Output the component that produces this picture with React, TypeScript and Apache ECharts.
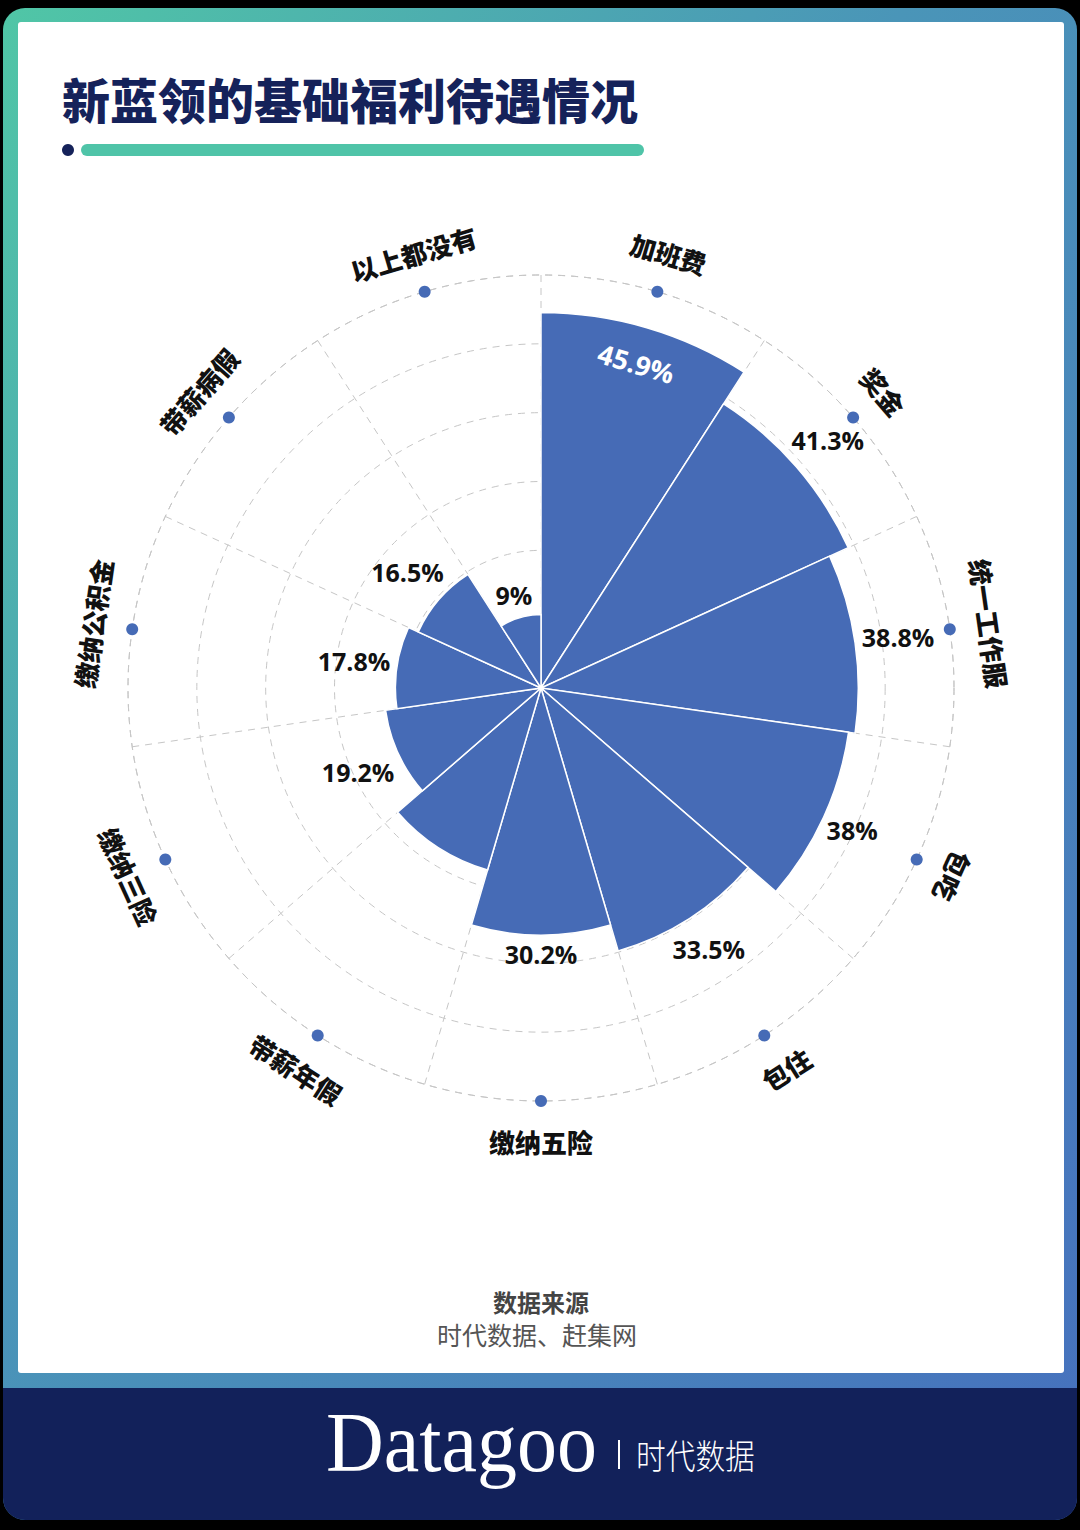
import React, { useEffect, useRef } from 'react';
import * as echarts from 'echarts';

const categories = ['加班费', '奖金', '统一工作服', '包吃', '包住', '缴纳五险', '带薪年假', '缴纳三险', '缴纳公积金', '带薪病假', '以上都没有'];
const values = [45.9, 41.3, 38.8, 38, 33.5, 30.2, 23.2, 19.2, 17.8, 16.5, 9];
const hiddenValueLabels = ['带薪年假'];
const insideValueLabels = ['加班费'];
const radiusMax = 50.5;
const radiusSplits = 6;

const titleText = '新蓝领的基础福利待遇情况';
const sourceTitle = '数据来源';
const sourceText = '时代数据、赶集网';
const brandName = 'Datagoo';
const brandCn = '时代数据';

const BLUE = '#466bb6';
const NAVY = '#15225a';
const GRID = '#c6c6c6';
const CJK = '"Noto Sans CJK SC", "Noto Sans", sans-serif';
const NUM = '"Open Sans", "Noto Sans", sans-serif';

function direction(api: any, v: number, i: number) {
  const c = api.coord([0, i]);
  const p = api.coord([v, i]);
  let dx = p[0] - c[0];
  let dy = p[1] - c[1];
  const len = Math.hypot(dx, dy) || 1;
  dx /= len;
  dy /= len;
  let deg = (Math.atan2(dx, -dy) * 180) / Math.PI;
  if (deg < 0) deg += 360;
  return { c, p, dx, dy, len, deg };
}

export default function App() {
  const ref = useRef<HTMLDivElement>(null);

  useEffect(() => {
    document.body.style.margin = '0';
    const chart = echarts.init(ref.current as HTMLDivElement, null, { renderer: 'svg' });

    const dashed = { color: GRID, type: [7, 6] as any, width: 1 };

    const option: any = {
      animation: false,
      backgroundColor: 'transparent',
      polar: { center: [541, 688], radius: [0, 413] },
      angleAxis: {
        type: 'category',
        data: categories,
        startAngle: 90,
        clockwise: true,
        boundaryGap: true,
        z: 1,
        axisLine: { show: false },
        axisTick: { show: false },
        axisLabel: { show: false },
        splitLine: { show: true, lineStyle: dashed },
        splitArea: { show: false },
      },
      radiusAxis: {
        type: 'value',
        min: 0,
        max: radiusMax,
        interval: radiusMax / radiusSplits,
        z: 1,
        axisLine: { show: false },
        axisTick: { show: false },
        axisLabel: { show: false },
        splitLine: { show: true, lineStyle: dashed },
        splitArea: { show: false },
      },
      series: [
        {
          type: 'bar',
          coordinateSystem: 'polar',
          data: values,
          barCategoryGap: '0%',
          z: 2,
          itemStyle: { color: BLUE, borderColor: '#ffffff', borderWidth: 1.5 },
          label: { show: false },
        },
        {
          type: 'custom',
          coordinateSystem: 'polar',
          clip: false,
          z: 4,
          data: values.map((v, i) => [v, i]),
          renderItem: (params: any, api: any) => {
            const i = params.dataIndex;
            const cat = categories[i];
            if (hiddenValueLabels.includes(cat)) return null;
            const v = values[i];
            const d = direction(api, v, i);
            const text = v + '%';
            const baseStyle = {
              text,
              fontFamily: NUM,
              fontSize: 25,
              fontWeight: 'bold',
              align: 'center',
              verticalAlign: 'middle',
            };
            if (insideValueLabels.includes(cat)) {
              return {
                type: 'text',
                x: d.p[0] - d.dx * 37,
                y: d.p[1] - d.dy * 37,
                rotation: (-d.deg * Math.PI) / 180,
                style: { ...baseStyle, fontSize: 27, fill: '#ffffff' },
              };
            }
            const w = text.length * 14;
            const h = 25;
            const off = 7 + (Math.abs(d.dx) * w) / 2 + (Math.abs(d.dy) * h) / 2;
            return {
              type: 'text',
              x: d.p[0] + d.dx * off,
              y: d.p[1] + d.dy * off,
              style: { ...baseStyle, fill: '#111111' },
            };
          },
        },
        {
          type: 'custom',
          coordinateSystem: 'polar',
          clip: false,
          z: 4,
          data: categories.map((_, i) => [radiusMax, i]),
          renderItem: (params: any, api: any) => {
            const i = params.dataIndex;
            const d = direction(api, radiusMax, i);
            let rot = d.deg;
            if (rot > 120 && rot < 250) rot -= 180;
            const r = d.len + 40;
            return {
              type: 'group',
              children: [
                {
                  type: 'circle',
                  shape: { cx: d.p[0], cy: d.p[1], r: 6 },
                  style: { fill: BLUE },
                },
                {
                  type: 'text',
                  x: d.c[0] + d.dx * r,
                  y: d.c[1] + d.dy * r,
                  rotation: (-rot * Math.PI) / 180,
                  style: {
                    text: categories[i],
                    fill: '#111111',
                    fontFamily: CJK,
                    fontSize: 26,
                    fontWeight: 900,
                    align: 'center',
                    verticalAlign: 'middle',
                  },
                },
              ],
            };
          },
        },
      ],
      graphic: [
        {
          type: 'text',
          x: 62,
          y: 98,
          z: 10,
          style: {
            text: titleText,
            fill: NAVY,
            fontFamily: CJK,
            fontSize: 48,
            fontWeight: 900,
            align: 'left',
            verticalAlign: 'middle',
          },
        },
        {
          type: 'circle',
          z: 10,
          shape: { cx: 68, cy: 150, r: 6 },
          style: { fill: NAVY },
        },
        {
          type: 'rect',
          z: 10,
          shape: { x: 81, y: 144, width: 563, height: 12, r: 6 },
          style: { fill: '#4fc4a8' },
        },
        {
          type: 'text',
          x: 541,
          y: 1301,
          z: 10,
          style: {
            text: sourceTitle,
            fill: '#444444',
            fontFamily: CJK,
            fontSize: 24,
            fontWeight: 'bold',
            align: 'center',
            verticalAlign: 'middle',
          },
        },
        {
          type: 'text',
          x: 537,
          y: 1334,
          z: 10,
          style: {
            text: sourceText,
            fill: '#555555',
            fontFamily: CJK,
            fontSize: 25,
            fontWeight: 'normal',
            align: 'center',
            verticalAlign: 'middle',
          },
        },
        {
          type: 'text',
          x: 326,
          y: 1443,
          z: 10,
          scaleY: 1.05,
          style: {
            text: brandName,
            fill: '#ffffff',
            fontFamily: '"Liberation Serif", "DejaVu Serif", serif',
            fontSize: 80,
            align: 'left',
            verticalAlign: 'middle',
          },
        },
        {
          type: 'line',
          z: 10,
          shape: { x1: 619, y1: 1440, x2: 619, y2: 1469 },
          style: { stroke: '#ffffff', lineWidth: 2 },
        },
        {
          type: 'text',
          x: 636,
          y: 1454,
          z: 10,
          scaleX: 0.9,
          scaleY: 1.05,
          style: {
            text: brandCn,
            fill: '#ffffff',
            fontFamily: CJK,
            fontSize: 33,
            fontWeight: 300,
            align: 'left',
            verticalAlign: 'middle',
          },
        },
      ],
    };

    chart.setOption(option);
    return () => chart.dispose();
  }, []);

  return (
    <div style={{ position: 'relative', width: 1080, height: 1530, background: '#000', overflow: 'hidden' }}>
      <div
        style={{
          position: 'absolute',
          left: 3,
          top: 8,
          width: 1074,
          height: 1512,
          borderRadius: 22,
          background: 'linear-gradient(to bottom right, #50c6a6 0%, #4a95b8 42%, #4670be 100%)',
        }}
      />
      <div style={{ position: 'absolute', left: 18, top: 22, width: 1046, height: 1351, background: '#fff', borderRadius: 3 }} />
      <div
        style={{
          position: 'absolute',
          left: 3,
          top: 1388,
          width: 1074,
          height: 132,
          background: '#12215a',
          borderBottomLeftRadius: 22,
          borderBottomRightRadius: 22,
        }}
      />
      <div ref={ref} style={{ position: 'absolute', left: 0, top: 0, width: 1080, height: 1530 }} />
    </div>
  );
}
